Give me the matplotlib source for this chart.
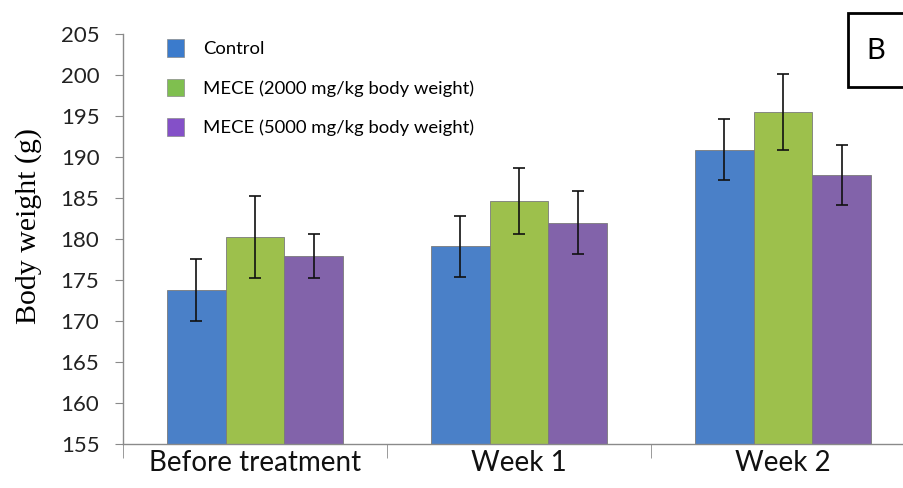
import numpy as np
import matplotlib.pyplot as plt
from matplotlib.patches import Patch, Rectangle

# body weight per group (mean and SD, g)
stages = ['Before treatment', 'Week 1', 'Week 2']
groups = ['Control', 'MECE (2000 mg/kg body weight)', 'MECE (5000 mg/kg body weight)']
control = [173.8, 179.1, 190.9]
control_sd = [3.8, 3.7, 3.7]
mece_2000 = [180.2, 184.6, 195.5]
mece_2000_sd = [5.0, 4.0, 4.6]
mece_5000 = [177.9, 182.0, 187.8]
mece_5000_sd = [2.7, 3.8, 3.7]

bar_colors = ['#4a80c8', '#9dc04c', '#8263aa']
legend_colors = ['#3b7bcc', '#7fbf4f', '#8450c8']

fig = plt.figure(figsize=(9.04, 4.88), dpi=100)
ax = fig.add_axes([123 / 904, 44 / 488, 792 / 904, 410 / 488])

x = np.arange(len(stages))
w = 0.222
series = [(control, control_sd), (mece_2000, mece_2000_sd), (mece_5000, mece_5000_sd)]
for i, (vals, sd) in enumerate(series):
    base = np.full(len(vals), 155.0)
    heights = np.array(vals) - base
    ax.bar(x + (i - 1) * w, heights, w, bottom=base, color=bar_colors[i],
           edgecolor='#7a7a7a', linewidth=0.6, zorder=2)
    ax.errorbar(x + (i - 1) * w, vals, yerr=sd, fmt='none', ecolor='#111111',
                elinewidth=1.2, capsize=4.3, capthick=1.2, zorder=3)

ax.set_xlim(-0.5, 2.5)
ax.set_ylim(155, 205)
ax.set_yticks(np.arange(155, 206, 5))

for s in ['top', 'right']:
    ax.spines[s].set_visible(False)
for s in ['left', 'bottom']:
    ax.spines[s].set_color('#8a8a8a')
    ax.spines[s].set_linewidth(1.0)

ax.set_xticks(x)
ax.set_xticklabels(stages, fontsize=20, family='Lato', color='#111111')
ax.set_xticks([-0.5, 0.5, 1.5], minor=True)
ax.tick_params(axis='x', which='major', length=0, pad=4)
ax.tick_params(axis='x', which='minor', length=10, color='#8a8a8a', direction='out')
ax.tick_params(axis='y', length=6, color='#8a8a8a', direction='out', pad=11)
for lab in ax.get_yticklabels():
    lab.set_fontsize(16)
    lab.set_family('Lato')
    lab.set_color('#222222')

ax.set_ylabel('Body weight (g)', fontsize=21.5, family='Liberation Serif')
ax.yaxis.set_label_coords(-0.102, 0.532)

handles = [Patch(facecolor=c, edgecolor='#8a8a8a', linewidth=0.5) for c in legend_colors]
leg = ax.legend(handles, groups, loc='upper left', bbox_to_anchor=(0.034, 1.028),
                frameon=False, handlelength=0.97, handleheight=1.1, handletextpad=1.0,
                labelspacing=1.16, borderpad=0.4, prop={'family': 'Lato', 'size': 13.3})

# panel letter box in the corner
fig.patches.append(Rectangle((848 / 904, 1 - 87 / 488), 70 / 904, 74 / 488,
                             transform=fig.transFigure, facecolor='white',
                             edgecolor='black', linewidth=2.0))
fig.text(876 / 904, 1 - 51 / 488, 'B', fontsize=21, family='Lato',
         ha='center', va='center')

fig.savefig('out.png', dpi=100)
